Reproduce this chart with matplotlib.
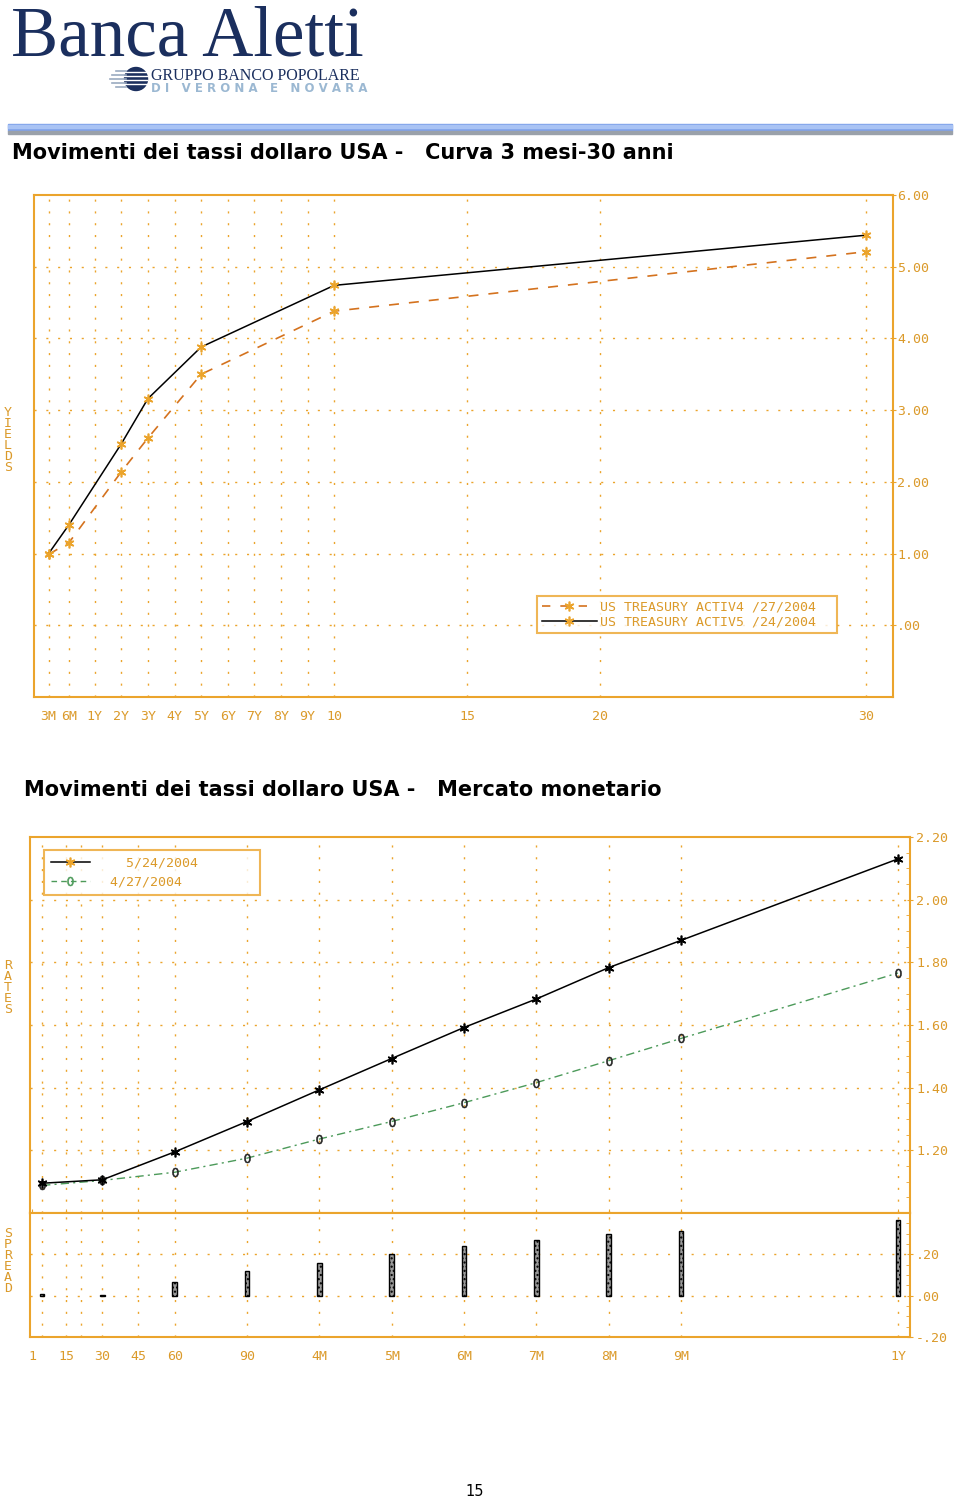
import numpy as np
import matplotlib
matplotlib.use("Agg")
import matplotlib.pyplot as plt
from matplotlib.lines import Line2D
from matplotlib.patches import Rectangle, Circle

# colori
AX_COL = '#EBA42C'
TXT_COL = '#DB9A2A'
DASH_COL = '#D4721E'
GREEN = '#4C9A5A'
NAVY = '#1B2F5E'
MONO = 'DejaVu Sans Mono'

# --- dati curva 3 mesi - 30 anni (anni) ---
curve_maturity = [0.25, 0.5, 2, 3, 5, 10, 30]
curve_may24 = [1.00, 1.40, 2.53, 3.16, 3.88, 4.74, 5.44]
curve_apr27 = [0.99, 1.15, 2.14, 2.61, 3.50, 4.38, 5.21]
curve_ticks = [0.25, 0.5, 1, 2, 3, 4, 5, 6, 7, 8, 9, 10, 15, 20, 30]
curve_tick_labels = ['3M', '6M', '1Y', '2Y', '3Y', '4Y', '5Y', '6Y', '7Y',
                     '8Y', '9Y', '10', '15', '20', '30']
curve_legend = ['US TREASURY ACTIV4 /27/2004', 'US TREASURY ACTIV5 /24/2004']

# --- dati mercato monetario (giorni) ---
mm_days = [5, 30, 60, 90, 120, 150, 180, 210, 240, 270, 360]
mm_may24 = [1.095, 1.106, 1.195, 1.292, 1.393, 1.493, 1.592, 1.683, 1.783, 1.870, 2.130]
mm_apr27 = [1.088, 1.104, 1.130, 1.175, 1.236, 1.292, 1.352, 1.416, 1.486, 1.557, 1.766]
mm_ticks = [1, 15, 30, 45, 60, 90, 120, 150, 180, 210, 240, 270, 360]
mm_tick_labels = ['1', '15', '30', '45', '60', '90', '4M', '5M', '6M', '7M',
                  '8M', '9M', '1Y']
mm_grid_days = [5, 15, 21, 30, 45, 60, 90, 120, 150, 180, 210, 240, 270, 360]
mm_legend = ['    5/24/2004', '  4/27/2004']

spread = np.array(mm_may24) - np.array(mm_apr27)


def fmt(v):
    s = f"{v:.2f}"
    return s.replace('0.', '.', 1) if s.lstrip('-').startswith('0.') else s


def dotted_grid(ax, xs=None, ys=None):
    kw = dict(color=AX_COL, lw=1.0, linestyle=(0, (1.5, 7)), zorder=0.5)
    for x in xs or []:
        ax.axvline(x, **kw)
    for y in ys or []:
        ax.axhline(y, **kw)


def style_axes(ax):
    for s in ax.spines.values():
        s.set_color(AX_COL)
        s.set_linewidth(1.5)
    ax.tick_params(colors=AX_COL, labelcolor=TXT_COL, labelsize=9.5)
    for lab in ax.get_xticklabels() + ax.get_yticklabels():
        lab.set_family(MONO)


fig = plt.figure(figsize=(9.6, 14.99), dpi=100)

# intestazione e testi in coordinate pixel
hdr = fig.add_axes([0, 0, 1, 1])
hdr.set_xlim(0, 960)
hdr.set_ylim(1499, 0)
hdr.axis('off')

hdr.text(11, 55, 'Banca Aletti', family='Liberation Serif', fontsize=51,
         color=NAVY, va='baseline')
hdr.text(151, 80, 'GRUPPO BANCO POPOLARE', family='Liberation Serif',
         fontsize=11.5, color=NAVY, va='baseline')
hdr.text(151, 92, 'D I   V E R O N A   E   N O V A R A',
         family='DejaVu Sans', fontsize=8.5, fontweight='bold',
         color='#9BB8D2', va='baseline')
hdr.add_patch(Circle((136, 79), 11.5, color=NAVY))
for yy in [72, 76, 80, 84]:
    hdr.plot([112, 147], [yy, yy], color='white', lw=1.0)
for yy, x0 in zip([71, 75, 79, 83, 87], [116, 112, 110, 112, 116]):
    hdr.plot([x0, 126], [yy, yy], color='#9AAAC0', lw=1.2)

hdr.add_patch(Rectangle((8, 124), 944, 7, color='#7FA2EA'))
hdr.add_patch(Rectangle((8, 125), 944, 2.5, color='#A9C3F4'))
hdr.add_patch(Rectangle((8, 131), 944, 2.5, color='#9AA1AA'))

hdr.text(12, 153, 'Movimenti dei tassi dollaro USA -   Curva 3 mesi-30 anni',
         fontsize=15, fontweight='bold', va='center')
hdr.text(24, 790, 'Movimenti dei tassi dollaro USA -   Mercato monetario',
         fontsize=15, fontweight='bold', va='center')
hdr.text(475, 1492, '15', fontsize=10.5, ha='center', va='center')

for word, yc in [('YIELDS', 440), ('RATES', 987), ('SPREAD', 1261)]:
    hdr.text(8, yc, '\n'.join(word), family=MONO, fontsize=9.5, color=TXT_COL,
             ha='center', va='center', linespacing=0.8)

# --- grafico 1: curva ---
mat_knots = [0, 0.25, 0.5, 1, 50]
disp_knots = [-1.5, -0.73, 0.03, 1, 50]

ax1 = fig.add_axes([34 / 960, 1 - 697 / 1499, 859 / 960, 502 / 1499])
ax1.set_xscale('function', functions=(lambda m: np.interp(m, mat_knots, disp_knots),
                                      lambda d: np.interp(d, disp_knots, mat_knots)))
ax1.set_xlim(0.0714, 31.0)
ax1.set_ylim(-1, 6)
dotted_grid(ax1, xs=curve_ticks, ys=list(range(0, 6)))

star = (6, 2, 0)
ax1.plot(curve_maturity, curve_apr27, color=DASH_COL, lw=1.2,
         linestyle=(0, (6, 6)), marker=star, ms=7, mec=AX_COL, mew=1.2, zorder=3)
ax1.plot(curve_maturity, curve_may24, color='black', lw=1.1,
         marker=star, ms=7, mec=AX_COL, mew=1.2, zorder=4)

ax1.set_xticks(curve_ticks)
ax1.set_xticklabels(curve_tick_labels)
ax1.xaxis.set_minor_locator(matplotlib.ticker.NullLocator())
ax1.set_yticks(range(0, 7))
ax1.set_yticklabels([fmt(v) for v in range(0, 7)])
ax1.yaxis.tick_right()
ax1.tick_params(axis='x', length=0, pad=9)
ax1.tick_params(axis='y', length=4, direction='inout', pad=1)
style_axes(ax1)

h1 = [Line2D([], [], color=DASH_COL, lw=1.2, linestyle=(0, (5, 6)), marker=star,
             ms=7, mec=AX_COL, mew=1.2),
      Line2D([], [], color='black', lw=1.1, marker=star, ms=7, mec=AX_COL, mew=1.2)]
leg1 = ax1.legend(h1, curve_legend, loc='center', mode='expand',
                  bbox_to_anchor=(0.5856, 0.1215, 0.3492, 0.0855),
                  numpoints=1, handlelength=4.2, handletextpad=0.2,
                  labelspacing=0.1, borderpad=0.35, fancybox=False,
                  prop={'family': MONO, 'size': 9.5}, borderaxespad=0)
leg1.get_frame().set_edgecolor(AX_COL)
leg1.get_frame().set_linewidth(1.5)
for t in leg1.get_texts():
    t.set_color(TXT_COL)

# --- grafico 2: mercato monetario ---
ax2 = fig.add_axes([30 / 960, 1 - 1213 / 1499, 880 / 960, 376 / 1499])
ax3 = fig.add_axes([30 / 960, 1 - 1337 / 1499, 880 / 960, 124 / 1499], sharex=ax2)
ax2.set_xlim(0, 365)
ax2.set_ylim(1.0, 2.2)
ax3.set_ylim(-0.2, 0.4)

dotted_grid(ax2, xs=mm_grid_days, ys=[1.2, 1.4, 1.6, 1.8, 2.0])
dotted_grid(ax3, xs=mm_grid_days, ys=[0.0, 0.2])

ax2.plot(mm_days, mm_apr27, color=GREEN, lw=1.0, linestyle=(0, (6, 3, 1.5, 3)),
         marker='$0$', ms=6.5, mfc='#222222', mec='#222222', mew=0.4, zorder=3)
ax2.plot(mm_days, mm_may24, color='black', lw=1.1, marker=star, ms=7,
         mec='black', mew=1.2, zorder=4)

ax3.bar(mm_days, spread, width=1.9, color='#9A9A9A', edgecolor='black', hatch='....',
        linewidth=1.0, zorder=3)

yt2 = [1.2, 1.4, 1.6, 1.8, 2.0, 2.2]
ax2.set_yticks(yt2)
ax2.set_yticklabels([fmt(v) for v in yt2])
ax2.yaxis.tick_right()
ax2.yaxis.set_minor_locator(matplotlib.ticker.MultipleLocator(0.05))
ax2.tick_params(axis='y', which='major', length=5, direction='inout', pad=2)
ax2.tick_params(axis='y', which='minor', length=3, direction='in', colors=AX_COL)
ax2.set_xticks(mm_grid_days)
ax2.tick_params(axis='x', length=6, direction='inout', labelbottom=False)

yt3 = [-0.2, 0.0, 0.2]
ax3.set_yticks(yt3)
ax3.set_yticklabels([fmt(v) for v in yt3])
ax3.yaxis.tick_right()
ax3.yaxis.set_minor_locator(matplotlib.ticker.MultipleLocator(0.05))
ax3.tick_params(axis='y', which='major', length=5, direction='inout', pad=2)
ax3.tick_params(axis='y', which='minor', length=3, direction='in', colors=AX_COL)
ax3.set_xticks(mm_ticks)
ax3.set_xticklabels(mm_tick_labels)
ax3.tick_params(axis='x', length=0, pad=9)
style_axes(ax2)
style_axes(ax3)
ax2.tick_params(axis='x', labelbottom=False)

h2 = [Line2D([], [], color='black', lw=1.1, marker=star, ms=7, mec=AX_COL, mew=1.2),
      Line2D([], [], color=GREEN, lw=1.0, linestyle=(0, (4, 3)), marker='$0$',
             ms=6.5, mfc=GREEN, mec=GREEN, mew=0.4)]
leg2 = ax2.legend(h2, mm_legend, loc='center', mode='expand',
                  bbox_to_anchor=(0.0159, 0.838, 0.245, 0.135),
                  numpoints=1, handlelength=3.0, handletextpad=0.3,
                  labelspacing=0.5, borderpad=0.5, fancybox=False,
                  prop={'family': MONO, 'size': 9.5}, borderaxespad=0)
leg2.get_frame().set_edgecolor(AX_COL)
leg2.get_frame().set_linewidth(1.5)
for t in leg2.get_texts():
    t.set_color(TXT_COL)

fig.savefig('out.png', dpi=100)
